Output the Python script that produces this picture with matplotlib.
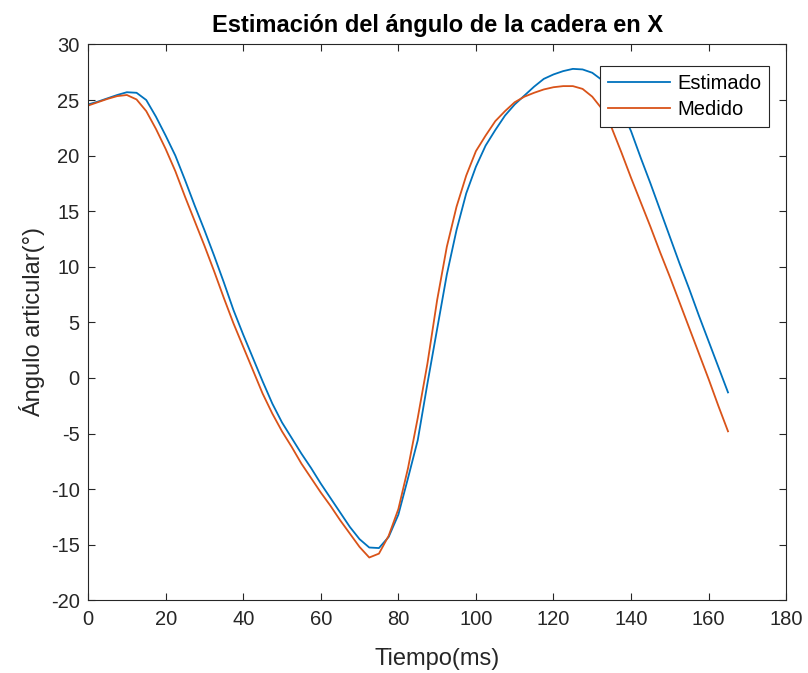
import matplotlib
matplotlib.use("Agg")
import matplotlib.pyplot as plt

# Tiempo (ms) común a ambas series
tiempo = [0, 2.5, 5, 7.5, 10, 12.5, 15, 17.5, 20, 22.5, 25, 27.5, 30, 32.5, 35, 37.5,
          40, 42.5, 45, 47.5, 50, 52.5, 55, 57.5, 60, 62.5, 65, 67.5, 70, 72.5, 75, 77.5,
          80, 82.5, 85, 87.5, 90, 92.5, 95, 97.5, 100, 102.5, 105, 107.5, 110, 112.5, 115,
          117.5, 120, 122.5, 125, 127.5, 130, 132.5, 135, 137.5, 140, 142.5, 145, 147.5,
          150, 152.5, 155, 157.5, 160, 162.5, 165]

estimado = [24.6, 24.85, 25.15, 25.45, 25.7, 25.65, 25.0, 23.5, 21.8, 20.0, 17.8, 15.5,
            13.3, 11.0, 8.6, 6.1, 3.9, 1.8, -0.3, -2.3, -4.0, -5.4, -6.8, -8.1, -9.5,
            -10.8, -12.1, -13.4, -14.5, -15.25, -15.3, -14.3, -12.3, -9.0, -5.6, -0.5,
            4.4, 9.3, 13.3, 16.6, 19.0, 20.9, 22.3, 23.6, 24.6, 25.4, 26.2, 26.9, 27.3,
            27.6, 27.8, 27.75, 27.45, 26.8, 25.6, 24.1, 22.2, 19.8, 17.5, 15.1, 12.7,
            10.3, 8.0, 5.6, 3.3, 1.0, -1.3]

medido = [24.5, 24.8, 25.1, 25.35, 25.45, 25.05, 24.0, 22.4, 20.6, 18.6, 16.3, 14.1,
          11.9, 9.6, 7.2, 4.9, 2.8, 0.7, -1.4, -3.2, -4.8, -6.2, -7.7, -9.0, -10.3,
          -11.5, -12.8, -14.0, -15.2, -16.15, -15.8, -14.2, -11.8, -8.1, -3.6, 1.3,
          7.0, 11.8, 15.4, 18.2, 20.4, 21.8, 23.1, 24.0, 24.8, 25.3, 25.65, 25.95,
          26.15, 26.25, 26.25, 26.0, 25.3, 24.2, 22.5, 20.3, 18.0, 15.8, 13.6, 11.3,
          9.1, 6.8, 4.5, 2.2, -0.1, -2.5, -4.8]

xticks = list(range(0, 181, 20))
yticks = list(range(-20, 31, 5))

plt.rcParams['font.family'] = ['Liberation Sans', 'DejaVu Sans']
plt.rcParams['axes.unicode_minus'] = False

gris = '#262626'
fig = plt.figure(figsize=(8.08, 6.73), dpi=100)
ax = fig.add_axes([0.109, 0.108, 0.864, 0.826])

ax.plot(tiempo, estimado, color='#0072BD', lw=1.3, label='Estimado')
ax.plot(tiempo, medido, color='#D95319', lw=1.3, label='Medido')

ax.set_xlim(0, 180)
ax.set_ylim(-20, 30)
ax.set_xticks(xticks)
ax.set_yticks(yticks)
ax.tick_params(direction='in', top=True, right=True, length=5, width=0.8,
               colors=gris, labelsize=14.5, labelcolor=gris)
ax.tick_params(axis='x', pad=7)
ax.tick_params(axis='y', pad=6)
for s in ax.spines.values():
    s.set_color(gris)
    s.set_linewidth(0.8)

ax.set_title('Estimación del ángulo de la cadera en X', fontsize=17,
             fontweight='bold', color='black', pad=9)
ax.set_xlabel('Tiempo(ms)', fontsize=17, color=gris, labelpad=14)
ax.set_ylabel('Ángulo articular(°)', fontsize=17, color=gris, labelpad=4)

leg = ax.legend(loc='upper right', bbox_to_anchor=(0.976, 0.962), fontsize=14.5,
                fancybox=False, framealpha=1, edgecolor=gris, handlelength=3.1,
                borderpad=0.4, labelspacing=0.35, handletextpad=0.35,
                borderaxespad=0)
leg.get_frame().set_linewidth(0.8)

fig.savefig('out.png', dpi=100)
